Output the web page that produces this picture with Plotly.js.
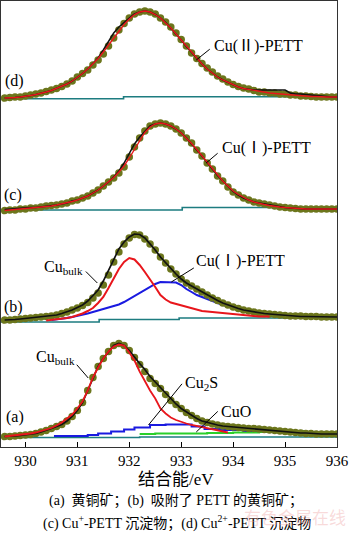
<!DOCTYPE html>
<html><head><meta charset="utf-8">
<script src="https://cdn.plot.ly/plotly-3.0.1.min.js"></script>
<style>html,body{margin:0;padding:0;background:#fff}#chart{width:350px;height:537px}</style>
</head><body><div id="chart"></div>
<script>
// binding energy grid (eV)
const energy = [929.6,929.7,929.8,929.9,930.0,930.1,930.2,930.3,930.4,930.5,
930.6,930.7,930.8,930.9,931.0,931.1,931.2,931.3,931.4,931.5,
931.6,931.7,931.8,931.9,932.0,932.1,932.2,932.3,932.4,932.5,
932.6,932.7,932.8,932.9,933.0,933.1,933.2,933.3,933.4,933.5,
933.6,933.7,933.8,933.9,934.0,934.1,934.2,934.3,934.4,934.5,
934.6,934.7,934.8,934.9,935.0,935.1,935.2,935.3,935.4,935.5,
935.6,935.7,935.8,935.9,936.0];

// vertical offsets of the stacked spectra
const offsetA = 9.5, offsetB = 125, offsetC = 236, offsetD = 348;

// (a) chalcopyrite
const dataA = [1,1,1.5,2,2.5,3,4,5.5,7,9, 11,13,16.5,21,27,35,47,60,71,79, 86,92,94,92,87,80,73,66,59,54,
49,43,37,33,29,25,22,19,16.5,15, 13.5,12.5,11.5,11,10.5,10,9.5,9,9,8.5, 8,7.5,7,6.5,6,5.5,5,4.5,4,4, 3.5,3.5,3.5,3.5,3.5];
const envA = [1,1,1.5,2,2.5,3,4,5.5,7,9, 11,13,16.5,21,27,35,47,60,71,79, 86,92,94,92,87,80,74,68,61,55.5,
50,44,38,33.5,29,25.5,22,19,16.5,15, 13.5,12.5,11.5,11,10.5,10,9.5,9,8.5,8, 7.5,7,6.5,6,5.5,5,5,4.5,4.5,4, 4,3.5,3.5,3.5,3.5];
const bulkA_E = [929.6,929.7,929.8,929.9,930.0,930.1,930.2,930.3,930.4,930.5,930.6,930.7,930.8,930.9,931.0,931.1,931.2,931.3,931.4,931.5,
931.6,931.7,931.8,931.9,932.0,932.1,932.2,932.3,932.4,932.5,932.6,932.7,932.8,932.9,933.0,933.1,933.2,933.3,933.4,933.5,933.6,933.7,933.8,933.9];
const bulkA = [1,1.5,2,2.5,3,4,5,6.5,8,9.5,12,15,19,23,29,36,47,60,70,79,86,91,93,92,85,77,66,56,47,39,
29,24,20,17.5,15.5,14,12.5,11.5,10.5,9.5,8.5,7.5,6,5];
const cu2sA_E = [930.55,931.2,931.4,931.65,931.9,932.1,932.4,932.7,932.95,933.2,933.45,933.75,934.2,934.8,935.0];
const cu2sA = [1.5,2.5,4,6,8,10,12.5,13,13,11,8.5,7.5,6.5,6,6];
const cuoA_E = [932.2,932.5,933.0,933.5,934.0,934.5,935.0,935.4];
const cuoA = [3.5,4,4,4.5,5,5.5,6.5,7];
const bgA_E = [929.5,932.2,936.0];
const bgA = [0,0.5,0.5];

// (b) chalcopyrite with adsorbed PETT
const dataB = [2,2,2.5,3,3.5,4,4.5,5,5.5,6, 7,8.5,10,12,14,16.5,19.5,24,29,37, 47,60,70,78,84,87.5,87,83,78,72,
65,59,53,48,43,39,36,33,30,27, 24,21.5,19,17,15,13.5,12,11,10,9, 8.5,8,7.5,7,6.5,6,6,6,5.5,5.5, 5.5,5,5,5,5];
const envB = [2,2,2.5,3,3.5,4,4.5,5,5.5,6, 7,8.5,10,12,14.5,17,21,26,32,41, 52,63,73,80,85,88,87.5,84,78.5,72,
65,59,53,48,43,39,36,33,30,27, 24,21.5,19,17,15,13.5,12,11,10,9, 8.5,8,7.5,7,6.5,6,6,5.5,5.5,5.5, 5,5,5,5,5];
const bulkB_E = [930.4,930.5,930.6,930.7,930.8,930.9,931.0,931.1,931.2,931.3,931.4,931.5,931.6,931.7,931.8,931.9,932.0,932.1,932.2,932.3,
932.4,932.5,932.6,932.7,932.8,932.9,933.0,933.1,933.2,933.3,933.4,933.5,933.6,933.7,933.8,933.9,934.0,934.1,934.2,934.3,934.4,934.5,934.6,934.7];
const bulkB = [1.5,2,2.5,3.5,4,5,6.5,8.5,11,14,19,25,34,44,53,60,64,62.5,57,50,43,35,27,22.5,19.5,18,16.5,15,13.5,12,
11,10.5,10,9,8.5,8,7.5,7,6.5,6,6,5.5,5.5,5.5];
const petB_E = [930.5,930.6,930.7,930.8,930.9,931.0,931.1,931.2,931.3,931.4,931.5,931.6,931.7,931.8,931.9,932.0,932.1,932.2,932.3,932.4,
932.5,932.6,932.7,932.8,932.9,933.0,933.1,933.2,933.3,933.4,933.5,933.6,933.7,933.8,933.9,934.0,934.1,934.2,934.3,934.4,
934.5,934.6,934.7,934.8,934.9,935.0,935.1,935.2];
const petB = [2,2.5,3.5,4,5,6,7,8.5,10,11.5,13,14.5,16,17.5,20,23,25.5,29,32,35,38,40,40,40,39.5,37,33,30,27,25,
23,21,19,17,16,14.5,13.5,12,11,10,9.5,9,9,8.5,8.5,8,8,8];
const bgB_E = [929.5,931.42,932.96,936.0];
const bgB = [0,2.5,4,4];

// (c) Cu+-PETT precipitate
const dataC = [0.5,1,1,2,2,3,3,4,5,5.5, 6,7,8,10,11,13,15,18,21,25, 29,33,38,44,54,64,73,80,85,87,
88,87,85,82,78,73,68,61,55,48, 42,35,30,24,19,16,13,11,9,8, 7,6,5,4,3.5,3,2.5,2,2,2, 2,2,2,2,2];
const envC = [1.5,2,2.5,3,3,3.5,3.5,4,5,5.5, 6,7,8,10,11,13,15,18,21,25, 29,34,40,48,58,67,74,80,85,87,
88,87,85,82,78,73,67.5,61,55,48, 42,35.5,30,24.5,19.5,16,13,11,9,8, 7,6,5,4,3.5,3,2.5,2,2,2, 2,2,2,2,2];
const fitC = [0.5,1,1,1.5,2,2.5,3,3.5,4.5,5, 6,7,8,9.5,11,13,15,18,21,25, 29,33.5,39,45,53,62,71,78.5,84,87,
88,87,85,82,78,73,67.5,61.5,55,48.5, 42,36,30,25,20,16.5,13.5,11,9,7.5, 6.5,5.5,4.5,4,3.5,3,2.5,2,2,2, 2,2,2,2,2];
const bgC_E = [929.5,933.02,936.0];
const bgC = [1,3.5,3.5];

// (d) Cu2+-PETT precipitate
const dataD = [1,1.5,2,2,3,4,5,6,7.5,9, 10.5,12.5,15,18,22,25.5,29,34,39,45, 53,61,69,75.5,81,85,87,88,87,85,
81,77,72,66,59.5,53,46,40.5,35.5,31, 27,23,20,17,14.5,12.5,11,10,8.5,7, 7,6,6,5,5,4,4,3,3,2.5, 2,2,2,2,2];
const envD = [1,1,1.5,2,2.5,3.5,4.5,5.5,7,8.5, 10.5,12.5,15,18,21.5,25.5,30,35,41,49, 58,66,72,77,81,85,87,88,87,84.5,
81,76.5,71,65,59,52.5,46.5,40.5,35,30, 26,22,19,16.5,14,12,10.5,9.5,9,9, 9,9,9,9,9,6,5,5,4.5,4, 3,2.5,2,2,2];
const fitD = [1,1,1.5,2,2.5,3.5,4.5,5.5,7,8.5, 10.5,12.5,15,18,21.5,25.5,30,35,40.5,47, 54,61,68,74.5,80,84.5,87,88,87,84.5,
81,76.5,71,65,59,52.5,46.5,40.5,35,30, 26,22,19,16.5,14,12,10.5,9.5,8.5,7.5, 6.5,6,5.5,5,4.5,4,3.5,3,3,2.5, 2.5,2,2,2,2];
const bgD_E = [929.5,931.89,936.0];
const bgD = [0.3,2.3,2.3];

const xTicks = [930,931,932,933,934,935,936];

const C = {teal:'#1d7c80', olive:'#6c761c', red:'#e8161c', blue:'#1a1ae0', green:'#2ad02a', black:'#111111'};
const sh = (arr, off) => arr.map(v => v + off);
const line = (x, y, off, color, w, shape) => ({x:x, y:sh(y, off), type:'scatter', mode:'lines',
  line:{color:color, width:w, shape:shape||'linear'}, hoverinfo:'skip', showlegend:false});
const dots = (y, off) => ({x:energy, y:sh(y, off), type:'scatter', mode:'markers',
  marker:{color:C.olive, size:7.5, line:{width:0}}, hoverinfo:'skip', showlegend:false});

const traces = [
  line(bgA_E, bgA, offsetA, C.teal, 1.6, 'hv'),
  line(cuoA_E, cuoA, offsetA, C.green, 2, 'hv'),
  line(cu2sA_E, cu2sA, offsetA, C.blue, 2, 'hv'),
  dots(dataA, offsetA),
  line(energy, envA, offsetA, C.black, 1.7),
  line(bulkA_E, bulkA, offsetA, C.red, 1.8),

  line(bgB_E, bgB, offsetB, C.teal, 1.6, 'hv'),
  line(petB_E, petB, offsetB, C.blue, 2),
  dots(dataB, offsetB),
  line(energy, envB, offsetB, C.black, 1.7),
  line(bulkB_E, bulkB, offsetB, C.red, 2),

  line(bgC_E, bgC, offsetC, C.teal, 1.6, 'hv'),
  dots(dataC, offsetC),
  line(energy, envC, offsetC, C.black, 1.5),
  line(energy, fitC, offsetC, C.red, 1.4),

  line(bgD_E, bgD, offsetD, C.teal, 1.6, 'hv'),
  dots(dataD, offsetD),
  line(energy, envD, offsetD, C.black, 1.5),
  line(energy, fitD, offsetD, C.red, 1.4)
];

const serif = 'Liberation Serif, Noto Sans CJK SC, serif';
const lab = (x, y, text, size) => ({x:x, y:y, xref:'x', yref:'y', text:text, showarrow:false,
  xanchor:'center', yanchor:'middle', font:{family:serif, size:size||16, color:'#000'}});
const lead = (x, y, ax, ay) => ({x:x, y:y, xref:'x', yref:'y', text:' ', showarrow:true, arrowhead:0,
  arrowwidth:1, arrowcolor:'#000', ax:ax, ay:ay, font:{size:1}});
const note = (x, y, text, size, color, fam) => ({x:x, y:y, xref:'paper', yref:'paper', text:text, showarrow:false,
  xanchor:'center', yanchor:'middle', font:{family:fam||serif, size:size, color:color||'#000'}});

const annotations = [
  lab(929.79, 366, '(d)'),
  lab(934.48, 401, 'Cu(Ⅱ)-PETT'),
  lead(933.29, 387, 15, -12),
  lab(929.77, 252, '(c)'),
  lab(934.65, 299, 'Cu(Ⅰ)-PETT'),
  lead(933.48, 284, 13, -11),
  lab(929.77, 140, '(b)'),
  lab(930.73, 180, 'Cu<sub>bulk</sub>'),
  lead(931.385, 164, -13, -13),
  lab(934.15, 186, 'Cu(Ⅰ)-PETT'),
  lead(932.81, 165, 24, -15),
  lab(929.79, 30, '(a)'),
  lab(930.58, 90, 'Cu<sub>bulk</sub>'),
  lead(931.21, 69, -13, -15),
  lab(933.39, 64, 'Cu<sub>2</sub>S'),
  lead(932.37, 22, 35, -43),
  lab(934.06, 36, 'CuO'),
  lead(933.29, 15, 23, -22),
  note(0.521, -0.072, '结合能/eV', 17, '#000', 'Liberation Serif, Noto Sans CJK SC'),
  note(0.521, -0.121, '(a)  黄铜矿；(b)  吸附了 PETT 的黄铜矿；', 14),
  note(0.524, -0.170, '(c) Cu<sup>+</sup>-PETT 沉淀物；(d) Cu<sup>2+</sup>-PETT 沉淀物', 14),
  note(0.875, -0.155, '有色金属在线', 17, 'rgba(235,150,150,0.35)', 'Noto Sans CJK SC')
];

const layout = {
  width:350, height:537,
  margin:{l:1, r:13, t:1, b:90},
  paper_bgcolor:'#fff', plot_bgcolor:'#fff',
  showlegend:false,
  xaxis:{range:[929.53, 936.0], tickvals:xTicks, ticktext:xTicks.map(String), ticks:'inside', ticklen:5,
    tickcolor:'#000', showline:true, linecolor:'#333', linewidth:1, mirror:true, showgrid:false, zeroline:false,
    tickfont:{family:serif, size:15, color:'#000'}},
  yaxis:{range:[0, 446], showticklabels:false, ticks:'', showline:true, linecolor:'#333', linewidth:1, mirror:true,
    showgrid:false, zeroline:false},
  annotations:annotations
};

Plotly.newPlot('chart', traces, layout, {staticPlot:true, displayModeBar:false});
</script>
</body></html>
